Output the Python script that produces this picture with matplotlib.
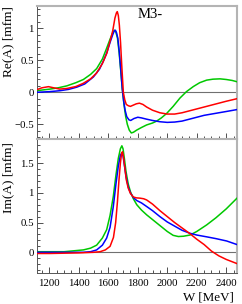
import matplotlib
matplotlib.use("Agg")
import matplotlib.pyplot as plt
from matplotlib.ticker import MultipleLocator, NullFormatter

plt.rcParams['font.family'] = ['Liberation Serif', 'DejaVu Serif']

# ---- data (W in MeV) ----
re_red_W = [1113, 1150, 1194, 1230, 1270, 1320, 1380, 1430, 1480, 1520, 1560, 1590, 1612, 1630, 1645,
            1655, 1661, 1668, 1675, 1683, 1691, 1702, 1712, 1722, 1736, 1750, 1770, 1790, 1811, 1835,
            1860, 1900, 1950, 2000, 2050, 2100, 2150, 2200, 2250, 2300, 2350, 2400, 2473]
re_red = [0.04, 0.07, 0.088, 0.07, 0.05, 0.06, 0.09, 0.14, 0.21, 0.30, 0.45, 0.61, 0.80, 0.96, 1.16,
          1.24, 1.26, 1.20, 1.05, 0.78, 0.43, 0.0, -0.12, -0.19, -0.21, -0.22, -0.20, -0.18, -0.17, -0.19,
          -0.23, -0.28, -0.32, -0.34, -0.34, -0.32, -0.29, -0.26, -0.23, -0.20, -0.17, -0.14, -0.10]

re_blue_W = [1113, 1200, 1273, 1330, 1386, 1440, 1499, 1540, 1567, 1590, 1612, 1630, 1641, 1648, 1656,
             1665, 1675, 1685, 1695, 1705, 1714, 1725, 1740, 1752, 1774, 1800, 1825, 1860, 1900, 1950,
             2000, 2050, 2100, 2150, 2200, 2250, 2300, 2350, 2400, 2473]
re_blue = [0.0, 0.01, 0.025, 0.045, 0.08, 0.13, 0.24, 0.36, 0.49, 0.62, 0.78, 0.90, 0.96, 0.97, 0.93,
           0.84, 0.62, 0.34, 0.05, -0.15, -0.28, -0.38, -0.43, -0.44, -0.41, -0.39, -0.40, -0.42, -0.44, -0.46,
           -0.47, -0.465, -0.45, -0.42, -0.39, -0.36, -0.34, -0.32, -0.30, -0.27]

re_green_W = [1113, 1205, 1260, 1318, 1380, 1431, 1480, 1521, 1560, 1589, 1612, 1630, 1641, 1650, 1662,
              1673, 1684, 1695, 1707, 1718, 1729, 1742, 1756, 1770, 1793, 1825, 1860, 1900, 1928, 1960,
              1996, 2040, 2086, 2130, 2177, 2220, 2267, 2310, 2358, 2400, 2440, 2473]
re_green = [0.025, 0.05, 0.07, 0.10, 0.15, 0.20, 0.28, 0.37, 0.52, 0.69, 0.83, 0.93, 0.97, 0.95, 0.85,
            0.63, 0.35, 0.05, -0.20, -0.38, -0.50, -0.59, -0.635, -0.625, -0.59, -0.55, -0.51, -0.48, -0.45, -0.40,
            -0.33, -0.22, -0.09, 0.01, 0.09, 0.15, 0.19, 0.205, 0.21, 0.20, 0.185, 0.165]

im_red_W = [1113, 1200, 1300, 1400, 1500, 1544, 1580, 1612, 1635, 1650, 1662, 1672, 1682, 1690, 1696,
            1703, 1712, 1722, 1735, 1750, 1770, 1790, 1815, 1840, 1860, 1900, 1950, 2000, 2050, 2100,
            2150, 2200, 2250, 2300, 2350, 2400, 2473]
im_red = [-0.02, -0.02, -0.015, -0.01, 0.0, 0.01, 0.04, 0.10, 0.25, 0.50, 0.85, 1.20, 1.50, 1.66, 1.69,
          1.60, 1.42, 1.22, 1.08, 0.99, 0.93, 0.915, 0.91, 0.90, 0.88, 0.81, 0.70, 0.60, 0.50, 0.41,
          0.32, 0.22, 0.13, 0.02, -0.06, -0.12, -0.19]

im_blue_W = [1113, 1300, 1431, 1480, 1521, 1560, 1589, 1612, 1634, 1652, 1668, 1682, 1692, 1700, 1710,
             1720, 1735, 1750, 1770, 1793, 1825, 1860, 1900, 1950, 2000, 2050, 2100, 2154, 2200, 2267,
             2330, 2403, 2473]
im_blue = [0.0, 0.0, 0.0, 0.01, 0.04, 0.12, 0.24, 0.42, 0.77, 1.15, 1.45, 1.63, 1.67, 1.62, 1.45,
           1.28, 1.10, 1.0, 0.92, 0.87, 0.83, 0.77, 0.70, 0.60, 0.51, 0.44, 0.37, 0.32, 0.29, 0.26,
           0.23, 0.19, 0.13]

im_green_W = [1113, 1300, 1431, 1480, 1521, 1560, 1589, 1612, 1634, 1652, 1668, 1682, 1692, 1700, 1710,
              1720, 1735, 1750, 1770, 1793, 1825, 1860, 1900, 1950, 2000, 2040, 2075, 2110, 2154, 2200,
              2267, 2330, 2400, 2473]
im_green = [0.01, 0.01, 0.04, 0.07, 0.12, 0.24, 0.38, 0.62, 0.94, 1.30, 1.58, 1.74, 1.79, 1.74, 1.56,
            1.36, 1.15, 1.02, 0.90, 0.80, 0.71, 0.63, 0.55, 0.45, 0.35, 0.285, 0.265, 0.27, 0.29, 0.35,
            0.46, 0.58, 0.73, 0.91]

title = "M3-"
re_label = "Re(A) [mfm]"
im_label = "Im(A) [mfm]"
x_label = "W [MeV]"

RED, BLUE, GREEN = "#ff0000", "#0000ff", "#00c800"

W, H = 242, 304
fig = plt.figure(figsize=(W / 100, H / 100), dpi=100)
left, right = 36.5, 237.0
ax1 = fig.add_axes([left / W, 1 - 139.5 / H, (right - left) / W, (139.5 - 5.5) / H])
ax2 = fig.add_axes([left / W, 1 - 273.0 / H, (right - left) / W, (273.0 - 139.5) / H])

xlim = (1113, 2473)
for ax in (ax1, ax2):
    ax.set_xlim(*xlim)
    ax.axhline(0, color="#707070", lw=0.8, zorder=1)
    ax.xaxis.set_major_locator(MultipleLocator(200))
    ax.xaxis.set_minor_locator(MultipleLocator(50))
    ax.yaxis.set_major_locator(MultipleLocator(0.5))
    ax.yaxis.set_minor_locator(MultipleLocator(0.1))
    ax.tick_params(which="both", direction="in", top=False, right=False, colors="#333333",
                   labelsize=7.8, labelcolor="black")
    ax.tick_params(which="major", length=4, width=0.6)
    ax.tick_params(which="minor", length=2, width=0.6)
    ax.tick_params(axis="y", pad=2)
    ax.tick_params(axis="x", pad=4.5)
    for s in ("top", "right"):
        ax.spines[s].set_color("#b4b4b4")
        ax.spines[s].set_linewidth(1.5)
    for s in ("left", "bottom"):
        ax.spines[s].set_color("#555555")
        ax.spines[s].set_linewidth(0.7)

ax1.set_ylim(-0.7375, 1.356)
ax2.set_ylim(-0.348, 1.896)

ax1.plot(re_green_W, re_green, color=GREEN, lw=1.1, zorder=3)
ax1.plot(re_blue_W, re_blue, color=BLUE, lw=1.1, zorder=4)
ax1.plot(re_red_W, re_red, color=RED, lw=1.1, zorder=5)

ax2.plot(im_green_W, im_green, color=GREEN, lw=1.1, zorder=3)
ax2.plot(im_blue_W, im_blue, color=BLUE, lw=1.1, zorder=4)
ax2.plot(im_red_W, im_red, color=RED, lw=1.1, zorder=5)

ax1.xaxis.set_major_formatter(NullFormatter())
ax1.set_yticks([-0.5, 0, 0.5, 1])
ax1.set_yticklabels(["\u22120.5", "0", "0.5", "1"])
ax2.set_yticks([0, 0.5, 1, 1.5])
ax2.set_yticklabels(["0", "0.5", "1", "1.5"])

ax1.text(0.5 + (150 - (left + right) / 2) / (right - left), 1 - (15 - 5.5) / 134.0, title,
         transform=ax1.transAxes, ha="center", va="center", fontsize=10.5)

fig.text(8 / W, 1 - 6 / H, re_label, rotation=90, ha="center", va="top", fontsize=9.6)
fig.text(8 / W, 1 - 142 / H, im_label, rotation=90, ha="center", va="top", fontsize=9.6)
fig.text(234 / W, 1 - 297 / H, x_label, ha="right", va="center", fontsize=9.4)

fig.savefig("out.png", dpi=100)
